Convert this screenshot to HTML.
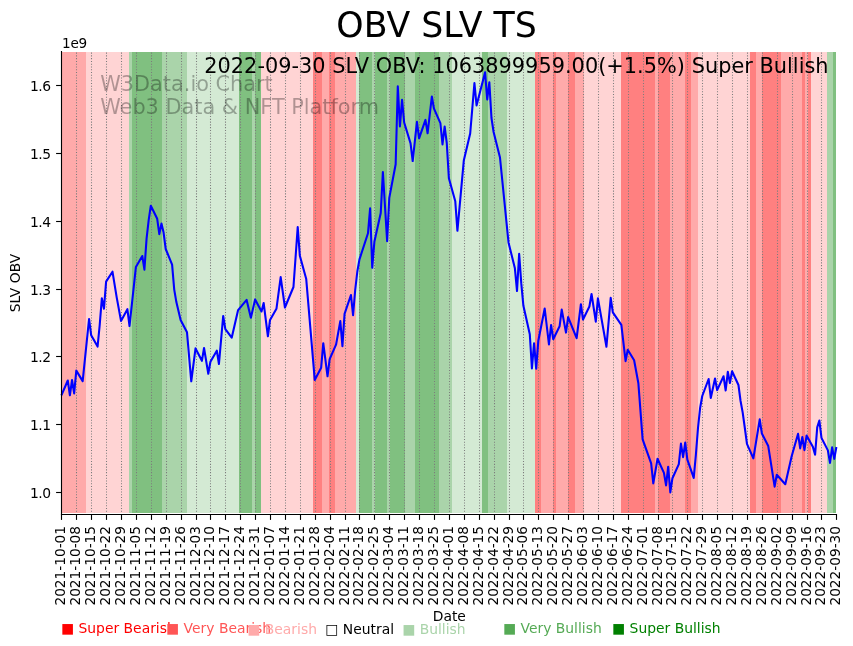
<!DOCTYPE html>
<html lang="en"><head><meta charset="utf-8"><title>OBV SLV TS</title>
<style>html,body{margin:0;padding:0;background:#fff;overflow:hidden}svg{display:block;will-change:transform;transform:translateZ(0)}text{font-family:'DejaVu Sans','Liberation Sans',sans-serif;fill:#000}</style></head><body>
<svg width="853" height="646" viewBox="0 0 853 646">
<rect width="853" height="646" fill="#fff"/>
<g shape-rendering="crispEdges">
<rect x="61.00" y="52.00" width="25.00" height="461.00" fill="#ffaaaa"/>
<rect x="86.00" y="52.00" width="43.00" height="461.00" fill="#ffd4d4"/>
<rect x="129.00" y="52.00" width="3.00" height="461.00" fill="#aad4aa"/>
<rect x="132.00" y="52.00" width="30.00" height="461.00" fill="#80c080"/>
<rect x="162.00" y="52.00" width="25.00" height="461.00" fill="#aad4aa"/>
<rect x="187.00" y="52.00" width="52.00" height="461.00" fill="#d4ead4"/>
<rect x="239.00" y="52.00" width="13.00" height="461.00" fill="#80c080"/>
<rect x="252.00" y="52.00" width="3.00" height="461.00" fill="#aad4aa"/>
<rect x="255.00" y="52.00" width="6.00" height="461.00" fill="#80c080"/>
<rect x="261.00" y="52.00" width="52.00" height="461.00" fill="#ffd4d4"/>
<rect x="313.00" y="52.00" width="9.00" height="461.00" fill="#ff8080"/>
<rect x="322.00" y="52.00" width="7.00" height="461.00" fill="#ffaaaa"/>
<rect x="329.00" y="52.00" width="6.00" height="461.00" fill="#ff8080"/>
<rect x="335.00" y="52.00" width="21.00" height="461.00" fill="#ffaaaa"/>
<rect x="356.00" y="52.00" width="3.00" height="461.00" fill="#d4ead4"/>
<rect x="359.00" y="52.00" width="13.00" height="461.00" fill="#80c080"/>
<rect x="372.00" y="52.00" width="3.00" height="461.00" fill="#aad4aa"/>
<rect x="375.00" y="52.00" width="12.00" height="461.00" fill="#80c080"/>
<rect x="387.00" y="52.00" width="3.00" height="461.00" fill="#aad4aa"/>
<rect x="390.00" y="52.00" width="15.00" height="461.00" fill="#80c080"/>
<rect x="405.00" y="52.00" width="10.00" height="461.00" fill="#aad4aa"/>
<rect x="415.00" y="52.00" width="24.00" height="461.00" fill="#80c080"/>
<rect x="439.00" y="52.00" width="13.00" height="461.00" fill="#aad4aa"/>
<rect x="452.00" y="52.00" width="30.00" height="461.00" fill="#d4ead4"/>
<rect x="482.00" y="52.00" width="6.00" height="461.00" fill="#80c080"/>
<rect x="488.00" y="52.00" width="19.00" height="461.00" fill="#aad4aa"/>
<rect x="507.00" y="52.00" width="28.00" height="461.00" fill="#d4ead4"/>
<rect x="535.00" y="52.00" width="6.00" height="461.00" fill="#ff8080"/>
<rect x="541.00" y="52.00" width="12.00" height="461.00" fill="#ffaaaa"/>
<rect x="553.00" y="52.00" width="3.00" height="461.00" fill="#ff8080"/>
<rect x="556.00" y="52.00" width="12.00" height="461.00" fill="#ffaaaa"/>
<rect x="568.00" y="52.00" width="7.00" height="461.00" fill="#ff8080"/>
<rect x="575.00" y="52.00" width="9.00" height="461.00" fill="#ffaaaa"/>
<rect x="584.00" y="52.00" width="37.00" height="461.00" fill="#ffd4d4"/>
<rect x="621.00" y="52.00" width="34.00" height="461.00" fill="#ff8080"/>
<rect x="655.00" y="52.00" width="3.00" height="461.00" fill="#ffaaaa"/>
<rect x="658.00" y="52.00" width="12.00" height="461.00" fill="#ff8080"/>
<rect x="670.00" y="52.00" width="15.00" height="461.00" fill="#ffaaaa"/>
<rect x="685.00" y="52.00" width="6.00" height="461.00" fill="#ff8080"/>
<rect x="691.00" y="52.00" width="7.00" height="461.00" fill="#ffaaaa"/>
<rect x="698.00" y="52.00" width="52.00" height="461.00" fill="#ffd4d4"/>
<rect x="750.00" y="52.00" width="6.00" height="461.00" fill="#ff8080"/>
<rect x="756.00" y="52.00" width="6.00" height="461.00" fill="#ffaaaa"/>
<rect x="762.00" y="52.00" width="19.00" height="461.00" fill="#ff8080"/>
<rect x="781.00" y="52.00" width="21.00" height="461.00" fill="#ffaaaa"/>
<rect x="802.00" y="52.00" width="3.00" height="461.00" fill="#ff8080"/>
<rect x="805.00" y="52.00" width="3.00" height="461.00" fill="#ffaaaa"/>
<rect x="808.00" y="52.00" width="3.00" height="461.00" fill="#ff8080"/>
<rect x="811.00" y="52.00" width="16.00" height="461.00" fill="#ffd4d4"/>
<rect x="827.00" y="52.00" width="6.00" height="461.00" fill="#aad4aa"/>
<rect x="833.00" y="52.00" width="3.00" height="461.00" fill="#80c080"/>
</g>
<g stroke="#7c7c7c" stroke-width="1.04" stroke-dasharray="1.04 1.72" stroke-dashoffset="-1.2" fill="none">
<path d="M76.5 513.00V52.00"/>
<path d="M91.5 513.00V52.00"/>
<path d="M106.5 513.00V52.00"/>
<path d="M121.5 513.00V52.00"/>
<path d="M136.5 513.00V52.00"/>
<path d="M151.5 513.00V52.00"/>
<path d="M166.5 513.00V52.00"/>
<path d="M181.5 513.00V52.00"/>
<path d="M196.5 513.00V52.00"/>
<path d="M210.5 513.00V52.00"/>
<path d="M225.5 513.00V52.00"/>
<path d="M240.5 513.00V52.00"/>
<path d="M255.5 513.00V52.00"/>
<path d="M270.5 513.00V52.00"/>
<path d="M285.5 513.00V52.00"/>
<path d="M300.5 513.00V52.00"/>
<path d="M315.5 513.00V52.00"/>
<path d="M330.5 513.00V52.00"/>
<path d="M345.5 513.00V52.00"/>
<path d="M359.5 513.00V52.00"/>
<path d="M374.5 513.00V52.00"/>
<path d="M389.5 513.00V52.00"/>
<path d="M404.5 513.00V52.00"/>
<path d="M419.5 513.00V52.00"/>
<path d="M434.5 513.00V52.00"/>
<path d="M449.5 513.00V52.00"/>
<path d="M464.5 513.00V52.00"/>
<path d="M479.5 513.00V52.00"/>
<path d="M494.5 513.00V52.00"/>
<path d="M509.5 513.00V52.00"/>
<path d="M523.5 513.00V52.00"/>
<path d="M538.5 513.00V52.00"/>
<path d="M553.5 513.00V52.00"/>
<path d="M568.5 513.00V52.00"/>
<path d="M583.5 513.00V52.00"/>
<path d="M598.5 513.00V52.00"/>
<path d="M613.5 513.00V52.00"/>
<path d="M628.5 513.00V52.00"/>
<path d="M643.5 513.00V52.00"/>
<path d="M658.5 513.00V52.00"/>
<path d="M672.5 513.00V52.00"/>
<path d="M687.5 513.00V52.00"/>
<path d="M702.5 513.00V52.00"/>
<path d="M717.5 513.00V52.00"/>
<path d="M732.5 513.00V52.00"/>
<path d="M747.5 513.00V52.00"/>
<path d="M762.5 513.00V52.00"/>
<path d="M777.5 513.00V52.00"/>
<path d="M792.5 513.00V52.00"/>
<path d="M807.5 513.00V52.00"/>
<path d="M821.5 513.00V52.00"/>
</g>
<polyline points="61.38,395.30 67.77,380.50 69.90,395.30 72.03,380.00 74.16,393.40 76.29,370.60 82.68,381.10 89.06,319.00 91.19,335.30 97.58,346.60 99.71,325.00 101.84,298.30 103.97,308.70 106.10,281.60 112.48,271.70 116.74,297.70 121.00,320.90 127.39,309.20 129.52,326.00 135.90,267.00 142.29,256.00 144.42,269.60 146.55,238.90 148.68,220.10 150.81,205.70 157.20,218.80 159.32,234.10 161.45,223.60 163.58,232.60 165.71,249.00 172.10,264.60 174.23,289.60 176.36,302.10 180.62,319.90 187.00,332.30 191.26,381.30 195.52,348.40 201.91,360.80 204.04,348.00 208.29,373.80 210.42,361.70 216.81,350.70 218.94,364.00 223.20,315.95 225.33,329.10 231.71,337.70 238.10,310.10 246.62,299.90 250.88,317.70 255.13,299.40 261.52,311.50 263.65,303.00 267.91,336.30 270.04,319.90 276.43,308.80 280.68,277.10 284.94,307.50 293.46,287.00 297.72,227.00 299.85,255.80 306.23,279.10 314.75,380.00 321.14,367.80 323.27,343.20 327.53,376.30 329.65,359.20 336.04,344.70 340.30,321.10 342.43,346.10 344.56,313.80 350.95,295.00 353.07,315.10 355.20,290.00 357.33,271.50 359.46,259.40 367.98,233.30 370.11,208.40 372.24,267.80 374.37,241.80 380.75,213.00 382.88,172.00 387.14,241.10 389.27,197.90 395.66,164.30 397.79,86.30 399.92,126.50 402.04,99.90 404.17,122.50 410.56,143.40 412.69,161.05 416.95,121.90 419.08,138.30 425.46,119.90 427.59,133.30 431.85,96.50 433.98,108.70 440.37,123.20 442.50,144.40 444.63,126.50 446.76,143.00 448.88,178.20 455.27,201.20 457.40,230.80 463.79,160.60 470.18,133.50 474.43,83.05 476.56,105.40 485.08,72.30 487.21,99.50 489.34,82.40 491.47,118.00 493.60,132.00 499.98,157.50 508.50,242.40 514.89,268.30 517.02,291.05 519.15,253.70 521.28,283.40 523.40,305.80 529.79,334.20 531.92,368.40 534.05,343.20 536.18,368.70 538.31,340.80 544.70,308.50 548.95,344.50 551.08,325.00 553.21,339.20 559.60,326.30 561.73,309.60 565.99,332.60 568.12,317.05 576.63,338.20 580.89,304.25 583.02,319.50 589.41,306.50 591.54,294.00 595.79,321.70 597.92,298.40 606.44,346.75 610.70,297.80 612.83,312.30 621.34,324.95 625.60,361.10 627.73,349.70 634.12,360.30 638.38,383.30 642.63,439.30 651.15,463.40 653.28,483.40 657.54,458.80 663.93,472.90 666.06,485.40 668.18,466.70 670.31,492.40 672.44,478.20 678.83,464.10 680.96,443.55 683.09,457.10 685.22,442.60 687.35,459.70 693.73,477.90 695.86,455.00 697.99,428.00 700.12,408.00 702.25,396.00 708.64,379.00 710.77,398.00 715.03,378.50 717.15,390.10 723.54,376.25 725.67,390.50 727.80,371.80 729.93,383.00 732.06,371.20 738.45,385.00 740.57,401.00 742.70,412.60 744.83,428.00 746.96,443.80 753.35,458.30 759.74,419.30 761.87,433.50 768.25,446.05 774.64,486.60 776.77,474.70 785.29,484.20 791.67,456.30 798.06,433.80 800.19,448.40 802.32,437.00 804.45,450.10 806.58,435.50 812.96,447.10 815.09,454.70 817.22,427.40 819.35,420.50 821.48,437.90 827.87,450.40 830.00,462.90 832.13,447.40 834.26,458.90 836.38,447.00" fill="none" stroke="#0000ff" stroke-width="2.08" stroke-linejoin="round" stroke-linecap="butt"/>
<g stroke="#000" stroke-width="1.11" fill="none" stroke-linecap="square">
<path d="M61.5 51.5V514.5"/>
<path d="M61.5 514.5H836.5"/>
</g>
<g stroke="#000" stroke-width="1.11" fill="none">
<path d="M61.5 514.5V519.9"/>
<path d="M76.5 514.5V519.9"/>
<path d="M91.5 514.5V519.9"/>
<path d="M106.5 514.5V519.9"/>
<path d="M121.5 514.5V519.9"/>
<path d="M136.5 514.5V519.9"/>
<path d="M151.5 514.5V519.9"/>
<path d="M166.5 514.5V519.9"/>
<path d="M181.5 514.5V519.9"/>
<path d="M196.5 514.5V519.9"/>
<path d="M210.5 514.5V519.9"/>
<path d="M225.5 514.5V519.9"/>
<path d="M240.5 514.5V519.9"/>
<path d="M255.5 514.5V519.9"/>
<path d="M270.5 514.5V519.9"/>
<path d="M285.5 514.5V519.9"/>
<path d="M300.5 514.5V519.9"/>
<path d="M315.5 514.5V519.9"/>
<path d="M330.5 514.5V519.9"/>
<path d="M345.5 514.5V519.9"/>
<path d="M359.5 514.5V519.9"/>
<path d="M374.5 514.5V519.9"/>
<path d="M389.5 514.5V519.9"/>
<path d="M404.5 514.5V519.9"/>
<path d="M419.5 514.5V519.9"/>
<path d="M434.5 514.5V519.9"/>
<path d="M449.5 514.5V519.9"/>
<path d="M464.5 514.5V519.9"/>
<path d="M479.5 514.5V519.9"/>
<path d="M494.5 514.5V519.9"/>
<path d="M509.5 514.5V519.9"/>
<path d="M523.5 514.5V519.9"/>
<path d="M538.5 514.5V519.9"/>
<path d="M553.5 514.5V519.9"/>
<path d="M568.5 514.5V519.9"/>
<path d="M583.5 514.5V519.9"/>
<path d="M598.5 514.5V519.9"/>
<path d="M613.5 514.5V519.9"/>
<path d="M628.5 514.5V519.9"/>
<path d="M643.5 514.5V519.9"/>
<path d="M658.5 514.5V519.9"/>
<path d="M672.5 514.5V519.9"/>
<path d="M687.5 514.5V519.9"/>
<path d="M702.5 514.5V519.9"/>
<path d="M717.5 514.5V519.9"/>
<path d="M732.5 514.5V519.9"/>
<path d="M747.5 514.5V519.9"/>
<path d="M762.5 514.5V519.9"/>
<path d="M777.5 514.5V519.9"/>
<path d="M792.5 514.5V519.9"/>
<path d="M807.5 514.5V519.9"/>
<path d="M821.5 514.5V519.9"/>
<path d="M836.5 514.5V519.9"/>
<path d="M61.5 492.5H56.1"/>
<path d="M61.5 424.5H56.1"/>
<path d="M61.5 356.5H56.1"/>
<path d="M61.5 289.5H56.1"/>
<path d="M61.5 221.5H56.1"/>
<path d="M61.5 153.5H56.1"/>
<path d="M61.5 85.5H56.1"/>
</g>
<text x="29.9" y="497.95" font-size="13.89" letter-spacing="-0.5">1.0</text>
<text x="29.9" y="429.95" font-size="13.89" letter-spacing="-0.5">1.1</text>
<text x="29.9" y="361.95" font-size="13.89" letter-spacing="-0.5">1.2</text>
<text x="29.9" y="294.95" font-size="13.89" letter-spacing="-0.5">1.3</text>
<text x="29.9" y="226.95" font-size="13.89" letter-spacing="-0.5">1.4</text>
<text x="29.9" y="158.95" font-size="13.89" letter-spacing="-0.5">1.5</text>
<text x="29.9" y="90.95" font-size="13.89" letter-spacing="-0.5">1.6</text>
<text x="62.0" y="47.9" font-size="13.6" letter-spacing="-0.25">1e9</text>
<text transform="translate(20.1 283) rotate(-90)" font-size="13.89" text-anchor="middle">SLV OBV</text>
<text transform="translate(65.30 526.0) rotate(-90)" font-size="13.7" text-anchor="end">2021-10-01</text>
<text transform="translate(80.30 526.0) rotate(-90)" font-size="13.7" text-anchor="end">2021-10-08</text>
<text transform="translate(95.30 526.0) rotate(-90)" font-size="13.7" text-anchor="end">2021-10-15</text>
<text transform="translate(110.30 526.0) rotate(-90)" font-size="13.7" text-anchor="end">2021-10-22</text>
<text transform="translate(125.30 526.0) rotate(-90)" font-size="13.7" text-anchor="end">2021-10-29</text>
<text transform="translate(140.30 526.0) rotate(-90)" font-size="13.7" text-anchor="end">2021-11-05</text>
<text transform="translate(155.30 526.0) rotate(-90)" font-size="13.7" text-anchor="end">2021-11-12</text>
<text transform="translate(170.30 526.0) rotate(-90)" font-size="13.7" text-anchor="end">2021-11-19</text>
<text transform="translate(185.30 526.0) rotate(-90)" font-size="13.7" text-anchor="end">2021-11-26</text>
<text transform="translate(200.30 526.0) rotate(-90)" font-size="13.7" text-anchor="end">2021-12-03</text>
<text transform="translate(214.30 526.0) rotate(-90)" font-size="13.7" text-anchor="end">2021-12-10</text>
<text transform="translate(229.30 526.0) rotate(-90)" font-size="13.7" text-anchor="end">2021-12-17</text>
<text transform="translate(244.30 526.0) rotate(-90)" font-size="13.7" text-anchor="end">2021-12-24</text>
<text transform="translate(259.30 526.0) rotate(-90)" font-size="13.7" text-anchor="end">2021-12-31</text>
<text transform="translate(274.30 526.0) rotate(-90)" font-size="13.7" text-anchor="end">2022-01-07</text>
<text transform="translate(289.30 526.0) rotate(-90)" font-size="13.7" text-anchor="end">2022-01-14</text>
<text transform="translate(304.30 526.0) rotate(-90)" font-size="13.7" text-anchor="end">2022-01-21</text>
<text transform="translate(319.30 526.0) rotate(-90)" font-size="13.7" text-anchor="end">2022-01-28</text>
<text transform="translate(334.30 526.0) rotate(-90)" font-size="13.7" text-anchor="end">2022-02-04</text>
<text transform="translate(349.30 526.0) rotate(-90)" font-size="13.7" text-anchor="end">2022-02-11</text>
<text transform="translate(363.30 526.0) rotate(-90)" font-size="13.7" text-anchor="end">2022-02-18</text>
<text transform="translate(378.30 526.0) rotate(-90)" font-size="13.7" text-anchor="end">2022-02-25</text>
<text transform="translate(393.30 526.0) rotate(-90)" font-size="13.7" text-anchor="end">2022-03-04</text>
<text transform="translate(408.30 526.0) rotate(-90)" font-size="13.7" text-anchor="end">2022-03-11</text>
<text transform="translate(423.30 526.0) rotate(-90)" font-size="13.7" text-anchor="end">2022-03-18</text>
<text transform="translate(438.30 526.0) rotate(-90)" font-size="13.7" text-anchor="end">2022-03-25</text>
<text transform="translate(453.30 526.0) rotate(-90)" font-size="13.7" text-anchor="end">2022-04-01</text>
<text transform="translate(468.30 526.0) rotate(-90)" font-size="13.7" text-anchor="end">2022-04-08</text>
<text transform="translate(483.30 526.0) rotate(-90)" font-size="13.7" text-anchor="end">2022-04-15</text>
<text transform="translate(498.30 526.0) rotate(-90)" font-size="13.7" text-anchor="end">2022-04-22</text>
<text transform="translate(513.30 526.0) rotate(-90)" font-size="13.7" text-anchor="end">2022-04-29</text>
<text transform="translate(527.30 526.0) rotate(-90)" font-size="13.7" text-anchor="end">2022-05-06</text>
<text transform="translate(542.30 526.0) rotate(-90)" font-size="13.7" text-anchor="end">2022-05-13</text>
<text transform="translate(557.30 526.0) rotate(-90)" font-size="13.7" text-anchor="end">2022-05-20</text>
<text transform="translate(572.30 526.0) rotate(-90)" font-size="13.7" text-anchor="end">2022-05-27</text>
<text transform="translate(587.30 526.0) rotate(-90)" font-size="13.7" text-anchor="end">2022-06-03</text>
<text transform="translate(602.30 526.0) rotate(-90)" font-size="13.7" text-anchor="end">2022-06-10</text>
<text transform="translate(617.30 526.0) rotate(-90)" font-size="13.7" text-anchor="end">2022-06-17</text>
<text transform="translate(632.30 526.0) rotate(-90)" font-size="13.7" text-anchor="end">2022-06-24</text>
<text transform="translate(647.30 526.0) rotate(-90)" font-size="13.7" text-anchor="end">2022-07-01</text>
<text transform="translate(662.30 526.0) rotate(-90)" font-size="13.7" text-anchor="end">2022-07-08</text>
<text transform="translate(676.30 526.0) rotate(-90)" font-size="13.7" text-anchor="end">2022-07-15</text>
<text transform="translate(691.30 526.0) rotate(-90)" font-size="13.7" text-anchor="end">2022-07-22</text>
<text transform="translate(706.30 526.0) rotate(-90)" font-size="13.7" text-anchor="end">2022-07-29</text>
<text transform="translate(721.30 526.0) rotate(-90)" font-size="13.7" text-anchor="end">2022-08-05</text>
<text transform="translate(736.30 526.0) rotate(-90)" font-size="13.7" text-anchor="end">2022-08-12</text>
<text transform="translate(751.30 526.0) rotate(-90)" font-size="13.7" text-anchor="end">2022-08-19</text>
<text transform="translate(766.30 526.0) rotate(-90)" font-size="13.7" text-anchor="end">2022-08-26</text>
<text transform="translate(781.30 526.0) rotate(-90)" font-size="13.7" text-anchor="end">2022-09-02</text>
<text transform="translate(796.30 526.0) rotate(-90)" font-size="13.7" text-anchor="end">2022-09-09</text>
<text transform="translate(811.30 526.0) rotate(-90)" font-size="13.7" text-anchor="end">2022-09-16</text>
<text transform="translate(825.30 526.0) rotate(-90)" font-size="13.7" text-anchor="end">2022-09-23</text>
<text transform="translate(840.30 526.0) rotate(-90)" font-size="13.7" text-anchor="end">2022-09-30</text>
<text x="449.3" y="620.6" font-size="13.89" text-anchor="middle">Date</text>
<text x="436.6" y="37.4" font-size="34.72" text-anchor="middle">OBV SLV TS</text>
<text x="828.6" y="73.1" font-size="20.83" letter-spacing="0.03" text-anchor="end">2022-09-30 SLV OBV: 1063899959.00(+1.5%) Super Bullish</text>
<g font-size="20.83" style="fill:#000;fill-opacity:0.31">
<text x="100.2" y="90.95" style="fill:#000">W3Data.io Chart</text>
<text x="100.2" y="113.5" style="fill:#000">Web3 Data &amp; NFT Platform</text>
</g>
<text x="61.0" y="632.5" font-size="13.89" style="fill:#ff0000">■ Super Bearish</text>
<text x="166.1" y="632.5" font-size="13.89" style="fill:#ff5555">■ Very Bearish</text>
<text x="247.3" y="633.5" font-size="13.89" style="fill:#ffaaaa">■ Bearish</text>
<text x="325.3" y="633.5" font-size="13.89" style="fill:#000000">□ Neutral</text>
<text x="402.2" y="633.5" font-size="13.89" style="fill:#aad4aa">■ Bullish</text>
<text x="503.0" y="632.5" font-size="13.89" style="fill:#55aa55">■ Very Bullish</text>
<text x="612.1" y="632.5" font-size="13.89" style="fill:#008000">■ Super Bullish</text>
</svg></body></html>
